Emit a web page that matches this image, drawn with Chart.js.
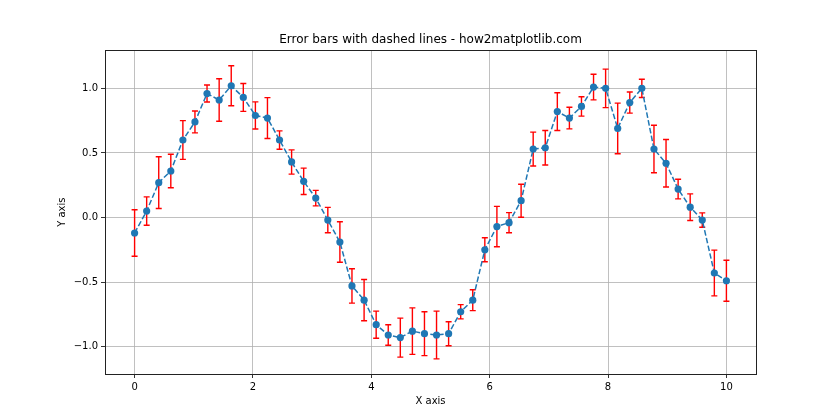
<!DOCTYPE html>
<html>
<head>
<meta charset="utf-8">
<script src="https://cdn.jsdelivr.net/npm/chart.js@4"></script>
<style>
  html, body { margin: 0; padding: 0; background: #fff; }
  #wrap { width: 840px; height: 420px; }
</style>
</head>
<body>
<div id="wrap"><canvas id="chart" width="840" height="420"></canvas></div>
<script>
// x = 50 evenly spaced samples on [0, 10]
const xValues = [
  0.000, 0.204, 0.408, 0.612, 0.816, 1.020, 1.224, 1.429, 1.633, 1.837,
  2.041, 2.245, 2.449, 2.653, 2.857, 3.061, 3.265, 3.469, 3.673, 3.878,
  4.082, 4.286, 4.490, 4.694, 4.898, 5.102, 5.306, 5.510, 5.714, 5.918,
  6.122, 6.327, 6.531, 6.735, 6.939, 7.143, 7.347, 7.551, 7.755, 7.959,
  8.163, 8.367, 8.571, 8.776, 8.980, 9.184, 9.388, 9.592, 9.796, 10.000,
];

const yValues = [
  -0.12, 0.05, 0.27, 0.36, 0.60, 0.74, 0.96, 0.91, 1.02, 0.93,
  0.79, 0.77, 0.60, 0.43, 0.28, 0.15, -0.02, -0.19, -0.53, -0.64,
  -0.83, -0.91, -0.93, -0.88, -0.90, -0.91, -0.90, -0.73, -0.64, -0.25,
  -0.07, -0.04, 0.13, 0.53, 0.54, 0.82, 0.77, 0.86, 1.01, 1.00,
  0.69, 0.89, 1.00, 0.53, 0.42, 0.22, 0.08, -0.02, -0.43, -0.49,
];

// symmetric error sizes
const yErrors = [
  0.18, 0.11, 0.20, 0.13, 0.15, 0.085, 0.066, 0.165, 0.155, 0.108,
  0.105, 0.158, 0.071, 0.094, 0.102, 0.060, 0.098, 0.157, 0.133, 0.160,
  0.105, 0.079, 0.151, 0.180, 0.170, 0.185, 0.093, 0.055, 0.081, 0.093,
  0.156, 0.078, 0.128, 0.131, 0.134, 0.146, 0.084, 0.075, 0.099, 0.149,
  0.196, 0.082, 0.071, 0.184, 0.184, 0.076, 0.103, 0.056, 0.177, 0.159,
];

const xTicks = [0, 2, 4, 6, 8, 10];
const yTicks = [-1.0, -0.5, 0.0, 0.5, 1.0];

const FONT = 'DejaVu Sans';

// red error bars with caps, drawn under the markers
const errorBars = {
  id: 'errorBars',
  beforeDatasetsDraw(chart) {
    const { ctx, scales: { x, y } } = chart;
    ctx.save();
    ctx.strokeStyle = 'red';
    ctx.lineWidth = 1.4;
    xValues.forEach((xv, i) => {
      const px = x.getPixelForValue(xv);
      const top = y.getPixelForValue(yValues[i] + yErrors[i]);
      const bot = y.getPixelForValue(yValues[i] - yErrors[i]);
      ctx.beginPath();
      ctx.moveTo(px, top); ctx.lineTo(px, bot);
      ctx.moveTo(px - 3, top); ctx.lineTo(px + 3, top);
      ctx.moveTo(px - 3, bot); ctx.lineTo(px + 3, bot);
      ctx.stroke();
    });
    ctx.restore();
  },
};

// close the axes box (top and right spines)
const frame = {
  id: 'frame',
  afterDraw(chart) {
    const { ctx, chartArea: a } = chart;
    ctx.save();
    ctx.strokeStyle = '#222';
    ctx.lineWidth = 1;
    ctx.strokeRect(Math.round(a.left) + 0.5, Math.round(a.top) + 0.5,
      Math.round(a.right - a.left), Math.round(a.bottom - a.top));
    ctx.restore();
  },
};

new Chart(document.getElementById('chart'), {
  type: 'line',
  data: {
    labels: xValues,
    datasets: [{
      label: 'data',
      data: xValues.map((xv, i) => ({ x: xv, y: yValues[i] })),
      borderColor: '#1f77b4',
      borderWidth: 1.5,
      borderDash: [5.5, 2.4],
      pointRadius: 3.6,
      pointBackgroundColor: '#1f77b4',
      pointBorderColor: '#1f77b4',
      pointBorderWidth: 0,
      tension: 0,
    }],
  },
  options: {
    responsive: false,
    animation: false,
    layout: { padding: { left: 0, right: 84, top: 0, bottom: 0 } },
    plugins: {
      legend: { display: false },
      tooltip: { enabled: false },
      title: {
        display: true,
        fullSize: false,
        text: 'Error bars with dashed lines - how2matplotlib.com',
        color: '#000',
        font: { family: FONT, size: 12, weight: 'normal' },
        padding: { top: 33, bottom: 3 },
      },
    },
    scales: {
      x: {
        type: 'linear',
        min: -0.5,
        max: 10.5,
        afterBuildTicks: s => { s.ticks = xTicks.map(v => ({ value: v })); },
        afterFit: s => { s.height = 46; },
        grid: { color: '#b0b0b0', lineWidth: 0.8, tickColor: '#000', tickLength: 4 },
        border: { display: true, color: '#222', width: 1 },
        ticks: {
          color: '#000', padding: 3, maxRotation: 0,
          font: { family: FONT, size: 10 },
          callback: v => String(v),
        },
        title: {
          display: true, text: 'X axis', color: '#000',
          font: { family: FONT, size: 10 },
          padding: { top: 0, bottom: 13 },
        },
      },
      y: {
        type: 'linear',
        min: -1.212,
        max: 1.294,
        afterBuildTicks: s => { s.ticks = yTicks.map(v => ({ value: v })); },
        afterFit: s => { s.width = 105; },
        grid: { color: '#b0b0b0', lineWidth: 0.8, tickColor: '#000', tickLength: 4 },
        border: { display: true, color: '#222', width: 1 },
        ticks: {
          color: '#000', padding: 3,
          font: { family: FONT, size: 10 },
          callback: v => v.toFixed(1).replace('-', '\u2212'),
        },
        title: {
          display: true, text: 'Y axis', color: '#000',
          font: { family: FONT, size: 10 },
          padding: { top: 56, bottom: 0 },
        },
      },
    },
  },
  plugins: [errorBars, frame],
});
</script>
</body>
</html>
